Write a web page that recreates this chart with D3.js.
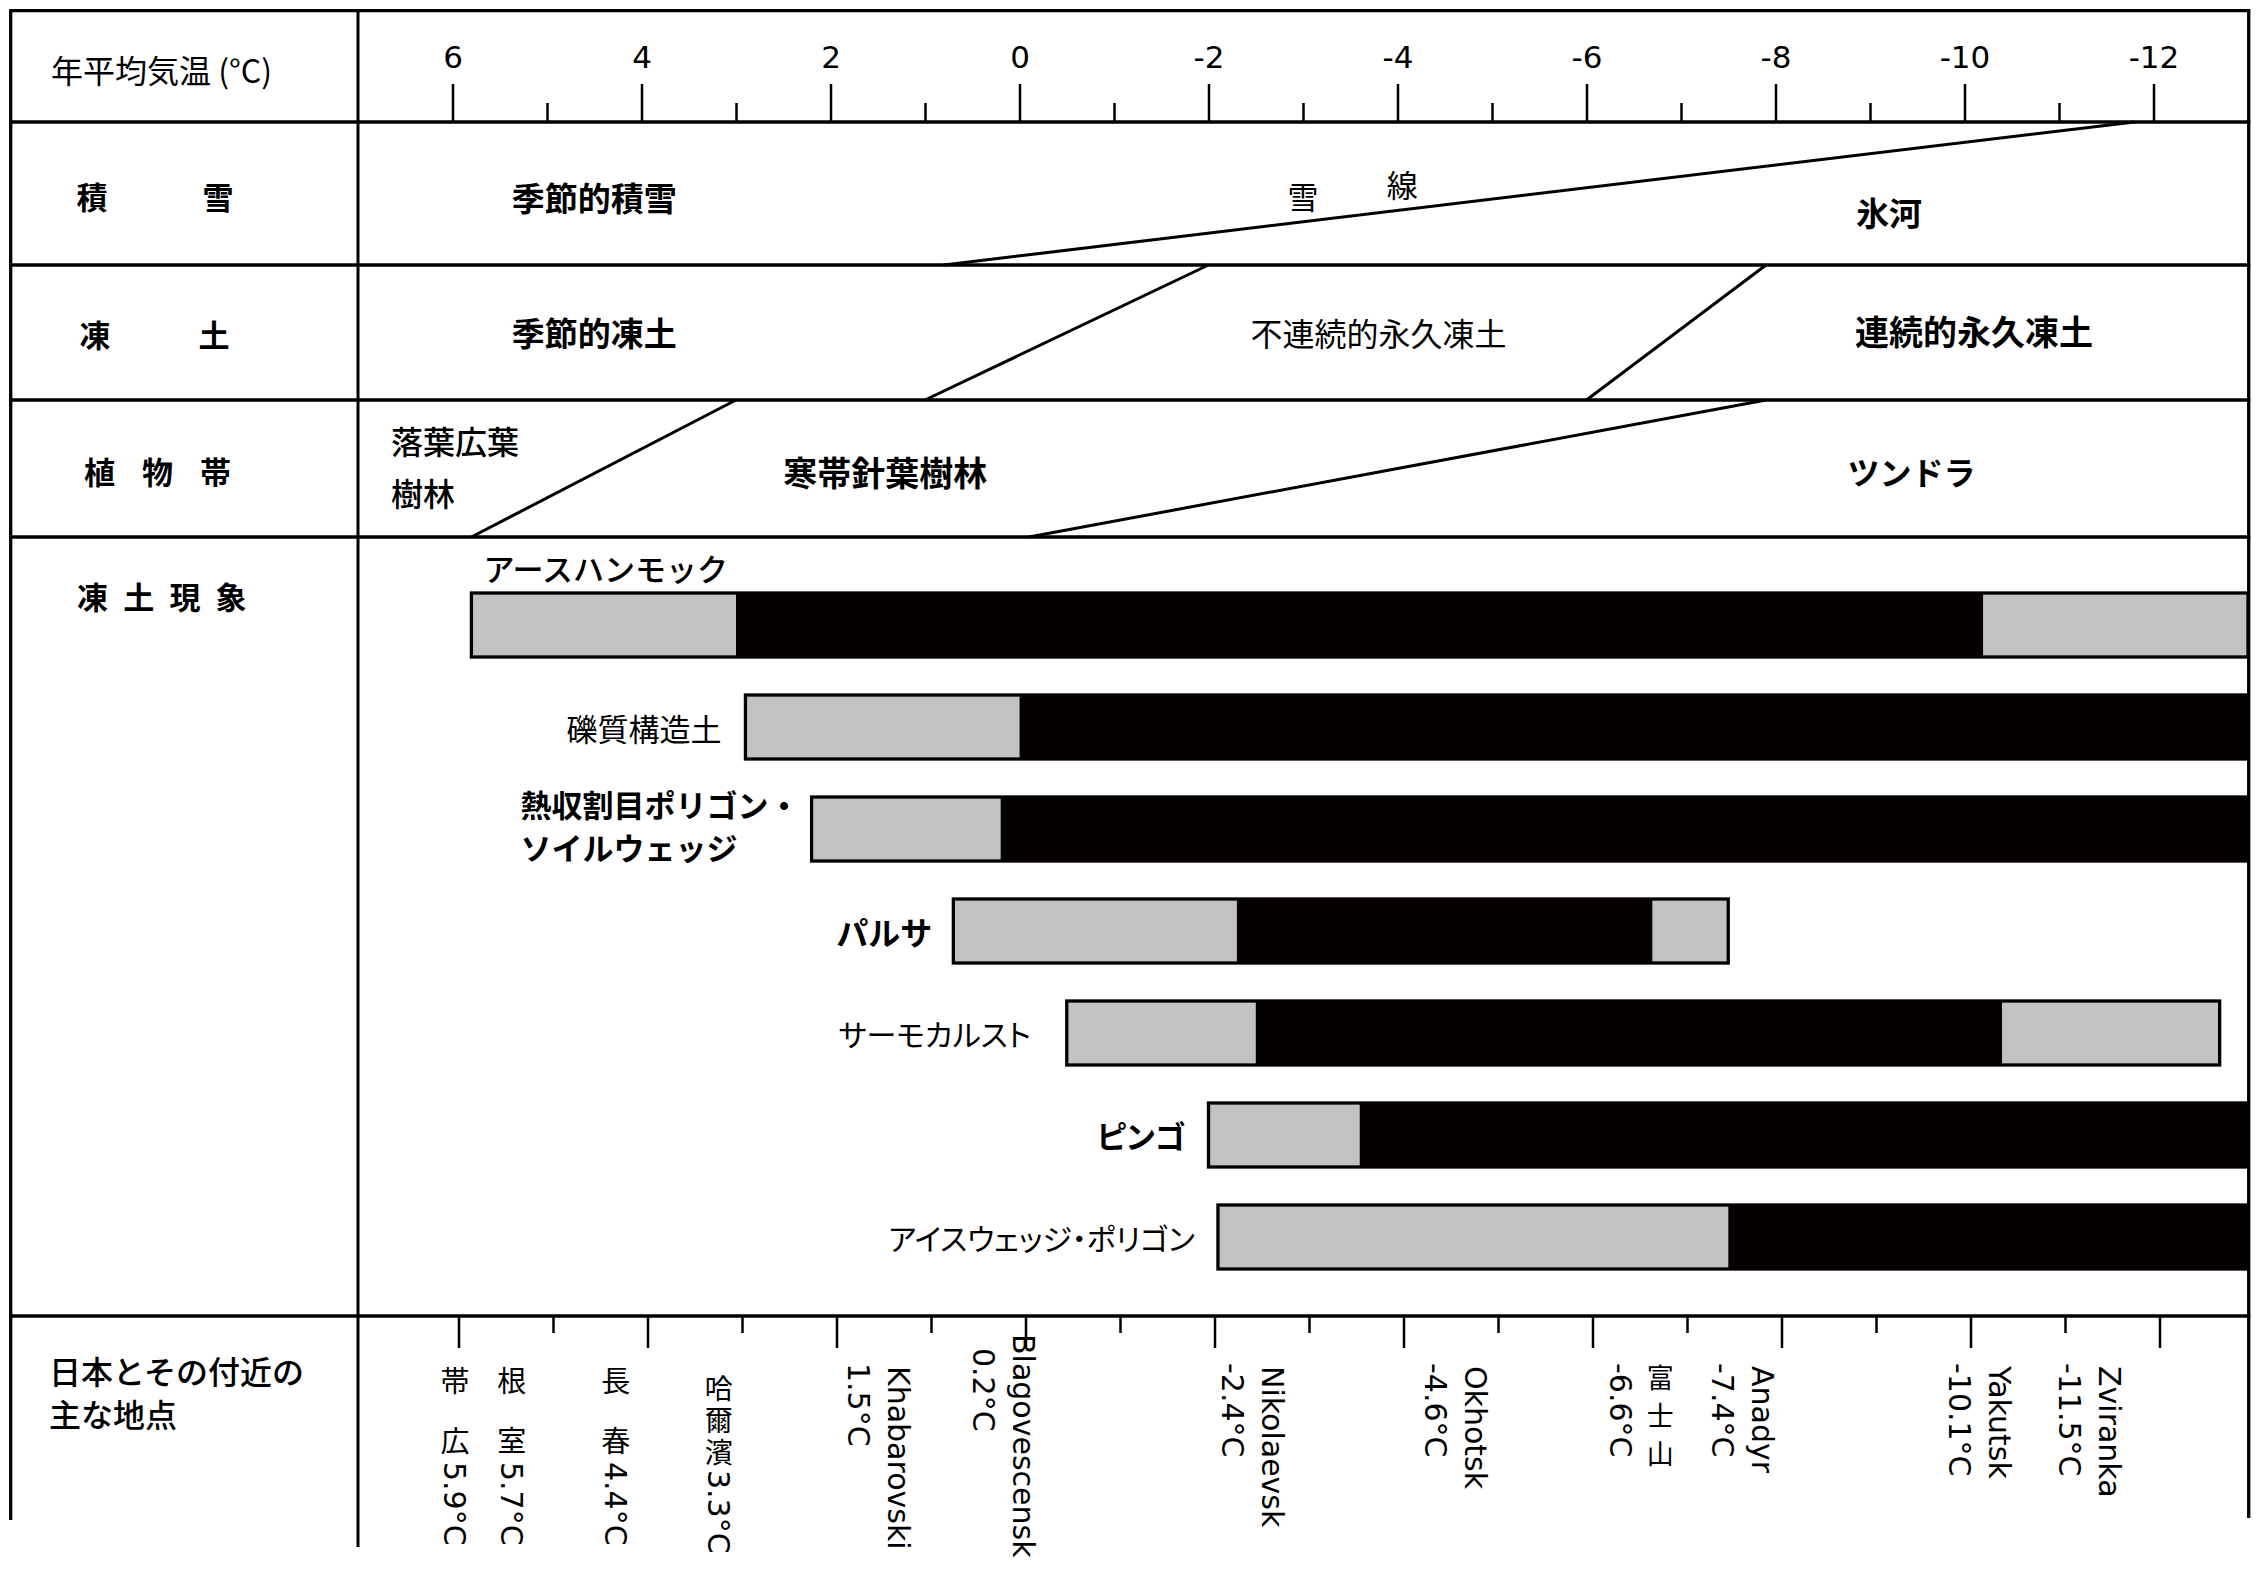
<!DOCTYPE html>
<html><head><meta charset="utf-8">
<script src="https://cdn.jsdelivr.net/npm/d3@7"></script>
<style>
html,body{margin:0;padding:0;background:#fff;}
svg{display:block;}
</style></head><body>
<svg id="chart" width="2266" height="1570"></svg>
<script>
// ================= DATA =================
const tempTicks  = [6, 4, 2, 0, -2, -4, -6, -8, -10, -12];
const minorTicks = [5, 3, 1, -1, -3, -5, -7, -9, -11];
const headerTitle = "年平均気温 (°C)";
const rowTitles = ["積雪", "凍土", "植物帯", "凍土現象"];
const stationTitle = ["日本とその付近の", "主な地点"];

// boundaries: [temperature at lower edge of row, temperature at upper edge of row]
const snowLines   = [[0.8, -11.8]];
const frozenLines = [[1.0, -2.0], [-6.0, -7.9]];
const vegLines    = [[5.8, 3.0], [-0.1, -7.9]];

const snowZones   = ["季節的積雪", "雪", "線", "氷河"];
const snowZoneT   = [4.5, -3.0, -4.05, -9.2];
const frozenZones = ["季節的凍土", "不連続的永久凍土", "連続的永久凍土"];
const frozenZoneT = [4.5, -3.8, -10.1];
const vegZones    = ["落葉広葉", "樹林", "寒帯針葉樹林", "ツンドラ"];
const vegZoneT    = [6.65, 6.65, 1.42, -9.44];

const phenomena = ["アースハンモック", "礫質構造土", "熱収割目ポリゴン・ソイルウェッジ",
                   "パルサ", "サーモカルスト", "ピンゴ", "アイスウェッジ・ポリゴン"];
const phenBreaks = [
  [5.8, 3.0, -10.2, -13],
  [2.9, 0.0, -13],
  [2.2, 0.2, -13],
  [0.7, -2.3, -6.7, -7.5],
  [-0.5, -2.5, -10.4, -12.7],
  [-2.0, -3.6, -13],
  [-2.1, -7.5, -13]
];
const phenClasses = [["g","b","g"],["g","b"],["g","b"],["g","b","g"],["g","b","g"],["g","b"],["g","b"]];

const stations = ["帯　広","根　室","長　春","哈爾濱","Khabarovski","Blagovescensk","Nikolaevsk",
                  "Okhotsk","富士山","Anadyr","Yakutsk","Zviranka"];
const stationTemps = [5.9, 5.7, 4.4, 3.3, 1.5, 0.2, -2.4, -4.6, -6.6, -7.4, -10.1, -11.5];

// ================= LAYOUT =================
const FJ = "'Noto Sans CJK JP','Noto Sans',sans-serif";
const FL = "'DejaVu Sans',sans-serif";
const BLACK = "#040000", GRAY = "#c2c2c2";
const frameL = 10.7, frameR = 2248.7, colX = 358;
const rowEdges = [10.7, 122, 265, 400, 537, 1316];
const frameBottom = {L: 1520, C: 1547, R: 1518};

const svg = d3.select("#chart");
const x  = d3.scaleLinear().domain([7, -13]).range([colX, 2248]);
const xb = d3.scaleLinear().domain([7, -13]).range([364, 2254]);

// ---- frame ----
const frame = svg.append("g").attr("stroke", "#000").attr("stroke-width", 3.3);
rowEdges.forEach(yv => frame.append("line").attr("x1", frameL - 1.6).attr("x2", frameR + 1.6).attr("y1", yv).attr("y2", yv));
frame.append("line").attr("x1", frameL).attr("x2", frameL).attr("y1", rowEdges[0]).attr("y2", frameBottom.L);
frame.append("line").attr("x1", colX).attr("x2", colX).attr("y1", rowEdges[0]).attr("y2", frameBottom.C).attr("stroke-width", 3);
frame.append("line").attr("x1", frameR).attr("x2", frameR).attr("y1", rowEdges[0]).attr("y2", frameBottom.R);

// ---- axes ----
function styleAxis(g) {
  g.select(".domain").remove();
  g.selectAll(".tick line").attr("stroke", "#000").attr("stroke-width", 2.5);
  g.selectAll(".tick text").style("font-family", FL).style("font-size", "31px").attr("fill", "#000");
}
svg.append("g").attr("transform", `translate(0,${rowEdges[1]})`)
  .call(d3.axisTop(x).tickValues(tempTicks).tickSize(38).tickPadding(16).tickFormat(d => String(d)))
  .call(styleAxis);
svg.append("g").attr("transform", `translate(0,${rowEdges[1]})`)
  .call(d3.axisTop(x).tickValues(minorTicks).tickSize(19).tickFormat(""))
  .call(styleAxis);
svg.append("g").attr("transform", `translate(0,${rowEdges[5]})`)
  .call(d3.axisBottom(xb).tickValues(tempTicks).tickSize(32).tickFormat(""))
  .call(styleAxis);
svg.append("g").attr("transform", `translate(0,${rowEdges[5]})`)
  .call(d3.axisBottom(xb).tickValues(minorTicks).tickSize(17).tickFormat(""))
  .call(styleAxis);

// ---- text helper ----
function label(x0, y0, txt, size, weight, anchor, extra) {
  const t = svg.append("text").attr("x", x0).attr("y", y0)
    .attr("text-anchor", anchor || "middle").attr("dominant-baseline", "central")
    .style("font-family", FJ).style("font-size", size + "px").style("font-weight", weight || 400)
    .attr("fill", "#000").text(txt);
  if (extra) extra(t);
  return t;
}

label(51, 69, headerTitle, 32, 400, "start");

const rowTitleLayout = [
  {x0: 92, pitch: 126, y: 195},
  {x0: 95, pitch: 119, y: 333},
  {x0: 99.5, pitch: 58, y: 470},
  {x0: 92.5, pitch: 46.2, y: 595}
];
rowTitles.forEach((t, i) => {
  const L = rowTitleLayout[i];
  Array.from(t).forEach((ch, j) => label(L.x0 + j * L.pitch, L.y, ch, 31, 700));
});
label(49, 1370, stationTitle[0], 32, 500, "start");
label(49, 1413, stationTitle[1], 32, 500, "start");

// ---- boundary lines ----
function drawBounds(lines, yTop, yBot) {
  svg.append("g").selectAll("line").data(lines).join("line")
    .attr("x1", d => x(d[0])).attr("y1", yBot).attr("x2", d => x(d[1])).attr("y2", yTop)
    .attr("stroke", "#000").attr("stroke-width", 3);
}
drawBounds(snowLines, rowEdges[1], rowEdges[2]);
drawBounds(frozenLines, rowEdges[2], rowEdges[3]);
drawBounds(vegLines, rowEdges[3], rowEdges[4]);

// ---- zone labels ----
const snowStyle = [{y:197,s:33,w:700,a:"middle"},{y:195,s:31,w:400,a:"middle"},{y:183,s:31,w:400,a:"middle"},{y:212,s:33,w:700,a:"middle"}];
snowZones.forEach((z, i) => label(x(snowZoneT[i]), snowStyle[i].y, z, snowStyle[i].s, snowStyle[i].w, snowStyle[i].a));
const frozenStyle = [{y:332,s:33,w:700},{y:332,s:32,w:400},{y:330,s:34,w:700}];
frozenZones.forEach((z, i) => label(x(frozenZoneT[i]), frozenStyle[i].y, z, frozenStyle[i].s, frozenStyle[i].w));
const vegStyle = [{y:440,s:32,w:500,a:"start"},{y:492,s:32,w:500,a:"start"},{y:471,s:34,w:700,a:"middle"},{y:471,s:32,w:700,a:"middle"}];
vegZones.forEach((z, i) => label(x(vegZoneT[i]), vegStyle[i].y, z, vegStyle[i].s, vegStyle[i].w, vegStyle[i].a));

// ---- phenomena bars ----
const yb = d3.scaleBand().domain(phenomena).range([593, 1269]).paddingInner(0.3725);
phenomena.forEach((p, i) => {
  const br = phenBreaks[i];
  const segs = d3.pairs(br).map((d, j) => ({a: d[0], b: d[1], c: phenClasses[i][j]}));
  const g = svg.append("g");
  g.selectAll("rect.seg").data(segs).join("rect").attr("class", "seg")
    .attr("x", d => x(d.a)).attr("width", d => x(d.b) - x(d.a))
    .attr("y", yb(p)).attr("height", yb.bandwidth())
    .attr("fill", d => d.c === "g" ? GRAY : BLACK);
  g.append("rect").attr("x", x(br[0])).attr("width", x(br[br.length - 1]) - x(br[0]))
    .attr("y", yb(p)).attr("height", yb.bandwidth())
    .attr("fill", "none").attr("stroke", BLACK).attr("stroke-width", 3.3);
});

const barLabelLayout = [
  {mode: "above", dx: 12, dy: -26, w: 500, s: 31},
  {mode: "left", dx: -24, w: 400, s: 31},
  {mode: "left2", dx: -12, w: 700, s: 31},
  {mode: "left", dx: -21, w: 700, s: 32},
  {mode: "left", dx: -36, w: 400, s: 30, palt: true},
  {mode: "left", dx: -23, w: 700, s: 31, palt: true},
  {mode: "left", dx: -23, w: 400, s: 30, palt: true}
];
const palt = t => t.style("font-feature-settings", "'palt' 1");
phenomena.forEach((p, i) => {
  const L = barLabelLayout[i];
  const x0 = x(phenBreaks[i][0]);
  const cy = yb(p) + yb.bandwidth() / 2;
  if (L.mode === "above") {
    label(x0 + L.dx, yb(p) + L.dy, p, L.s, L.w, "start");
  } else if (L.mode === "left") {
    label(x0 + L.dx, cy, p, L.s, L.w, "end", L.palt ? palt : null);
  } else {
    const k = p.indexOf("・") + 1;
    const t1 = label(x0 + L.dx, cy - 26, p.slice(0, k), L.s, L.w, "end");
    const left = x0 + L.dx - t1.node().getComputedTextLength();
    label(left, cy + 17, p.slice(k), L.s, L.w, "start");
  }
});

// ---- station labels (vertical) ----
function isCJK(ch) { return /[\u3000-\u9fff\uff00-\uffef]/.test(ch); }
function vText(cx, top, str, size, pitch) {
  let yy = top;
  const step = pitch || size;
  const runs = [];
  for (const ch of str) {
    const cjk = isCJK(ch);
    const last = runs[runs.length - 1];
    if (last && last.cjk === cjk && (!cjk || (ch !== "\u3000" && !last.t.includes("\u3000")))) last.t += ch;
    else runs.push({cjk, t: ch});
  }
  runs.forEach(r => {
    if (r.cjk) {
      const n = Array.from(r.t).length;
      if (r.t.trim() !== "" && r.t !== "\u3000") {
        svg.append("text").attr("x", cx).attr("y", yy)
          .style("writing-mode", "vertical-rl").style("text-orientation", "upright")
          .style("letter-spacing", (step - size) + "px")
          .style("font-family", FJ).style("font-size", size + "px").attr("fill", "#000").text(r.t);
      }
      yy += n * step;
    } else {
      const lead = r.t.length - r.t.replace(/^ +/, "").length;
      yy += lead * 6;
      const t = svg.append("text").attr("transform", `translate(${cx},${yy}) rotate(90)`)
        .attr("dominant-baseline", "central")
        .style("font-family", FL).style("font-size", "30px").attr("fill", "#000").text(r.t.trim());
      yy += t.node().getComputedTextLength();
    }
  });
}
const stationNudge = [[-13,0,0],[25,0,0],[6,0,0],[5,0,0],[-5,0,0],[-3,-32,-15],[0,0,0],[-5,0,0],[-9,0,0],[18,0,0],[0,0,0],[-23,0,0]];
const stationTop = 1366;
stations.forEach((s, i) => {
  const n = stationNudge[i];
  const cx = xb(stationTemps[i]) + n[0];
  const val = stationTemps[i].toFixed(1) + "°C";
  const allCJK = Array.from(s).every(isCJK);
  if (allCJK && s.includes("\u3000")) {
    vText(cx, stationTop + n[1], s + " " + val, 29, 30);
  } else if (s === "哈爾濱") {
    vText(cx, stationTop + 8 + n[1], s + val, 28, 32);
  } else if (allCJK) {
    vText(cx + 20, stationTop + n[1] - 2, s, 27, 38);
    vText(cx - 20, stationTop + n[2] - 3, val, 30);
  } else {
    vText(cx + 20, stationTop + n[1], s, 30);
    vText(cx - 20, stationTop + n[2] - 3, val, 30);
  }
});
</script>
</body></html>
